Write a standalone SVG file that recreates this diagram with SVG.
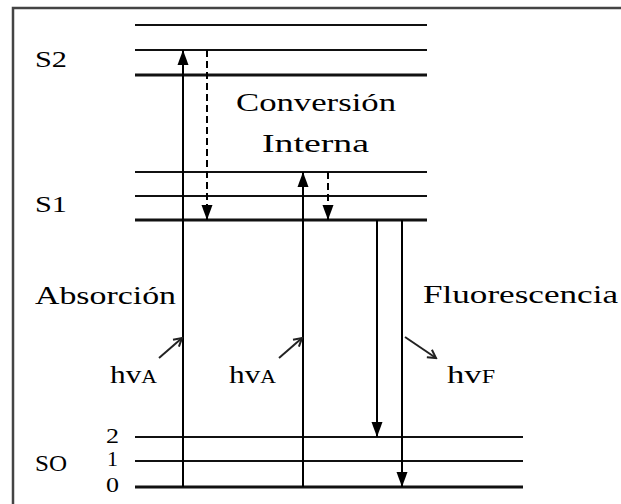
<svg xmlns="http://www.w3.org/2000/svg" width="621" height="504" viewBox="0 0 621 504">
<style>
  text { font-family: "Liberation Serif", "Times New Roman", serif; font-size: 26px; fill: #000; }
  .lvl { stroke: #111; stroke-width: 2; }
  .lvl0 { stroke: #111; stroke-width: 3; }
  .tr { stroke: #000; stroke-width: 2; fill: none; }
  .dash { stroke: #000; stroke-width: 2; stroke-dasharray: 7 4; fill: none; }
  .ph { stroke: #222; stroke-width: 2; fill: none; }
  .frame { stroke: #444; stroke-width: 2.5; fill: none; }
  .sm { font-size: 24px; }
  .sc { font-size: 18px; }
  .dig { font-size: 21px; }
</style>
<defs>
  <marker id="head" markerUnits="userSpaceOnUse" markerWidth="16" markerHeight="14" viewBox="0 0 16 14" refX="15" refY="7" orient="auto">
    <path d="M0,1.5 L15,7 L0,12.5 z" fill="#000"/>
  </marker>
  <marker id="open" markerUnits="userSpaceOnUse" markerWidth="12" markerHeight="12" viewBox="0 0 12 12" refX="10" refY="6" orient="auto">
    <path d="M2,1.5 L10,6 L2,10.5" fill="none" stroke="#222" stroke-width="2"/>
  </marker>
</defs>
<rect width="621" height="504" fill="#fff"/>
<path class="frame" d="M13,504 L13,8 L621,8"/>

<g id="S2">
  <line class="lvl" x1="135" y1="25" x2="427" y2="25"/>
  <line class="lvl" x1="135" y1="50" x2="427" y2="50"/>
  <line class="lvl0" x1="135" y1="75" x2="427" y2="75"/>
  <text class="sm" x="35" y="67" textLength="32" lengthAdjust="spacingAndGlyphs">S2</text>
</g>
<g id="S1">
  <line class="lvl" x1="135" y1="172" x2="427" y2="172"/>
  <line class="lvl" x1="135" y1="196" x2="427" y2="196"/>
  <line class="lvl0" x1="135" y1="220" x2="427" y2="220"/>
  <text class="sm" x="35" y="212" textLength="32" lengthAdjust="spacingAndGlyphs">S1</text>
</g>
<g id="S0">
  <line class="lvl" x1="135" y1="437" x2="523" y2="437"/>
  <line class="lvl" x1="135" y1="461" x2="523" y2="461"/>
  <line class="lvl0" x1="135" y1="487" x2="523" y2="487"/>
  <text class="sm" x="35" y="471" textLength="32" lengthAdjust="spacingAndGlyphs">SO</text>
  <text class="dig" x="106" y="443" textLength="13" lengthAdjust="spacingAndGlyphs">2</text>
  <text class="dig" x="107" y="466" textLength="11" lengthAdjust="spacingAndGlyphs">1</text>
  <text class="dig" x="106" y="492" textLength="13" lengthAdjust="spacingAndGlyphs">0</text>
</g>
<g id="labels">
  <text x="236" y="111" textLength="160" lengthAdjust="spacingAndGlyphs">Conversión</text>
  <text x="262" y="152" textLength="107" lengthAdjust="spacingAndGlyphs">Interna</text>
  <text x="35" y="304" textLength="141" lengthAdjust="spacingAndGlyphs">Absorción</text>
  <text x="423" y="303" textLength="195" lengthAdjust="spacingAndGlyphs">Fluorescencia</text>
  <text x="110" y="383" textLength="47" lengthAdjust="spacingAndGlyphs">hv<tspan class="sc">A</tspan></text>
  <text x="229" y="383" textLength="47" lengthAdjust="spacingAndGlyphs">hv<tspan class="sc">A</tspan></text>
  <text x="447" y="383" textLength="48" lengthAdjust="spacingAndGlyphs">hv<tspan class="sc">F</tspan></text>
</g>
<g id="connectors">
  <line class="tr" x1="183" y1="487" x2="183" y2="50" marker-end="url(#head)"/>
  <line class="tr" x1="303" y1="487" x2="303" y2="172" marker-end="url(#head)"/>
  <line class="dash" x1="207" y1="50" x2="207" y2="220" marker-end="url(#head)"/>
  <line class="dash" x1="328" y1="172" x2="328" y2="220" marker-end="url(#head)"/>
  <line class="tr" x1="377" y1="220" x2="377" y2="437" marker-end="url(#head)"/>
  <line class="tr" x1="402" y1="220" x2="402" y2="487" marker-end="url(#head)"/>
  <line class="ph" x1="159" y1="358" x2="182" y2="338" marker-end="url(#open)"/>
  <line class="ph" x1="279" y1="358" x2="302" y2="338" marker-end="url(#open)"/>
  <line class="ph" x1="405" y1="337" x2="436" y2="358" marker-end="url(#open)"/>
</g>
</svg>
